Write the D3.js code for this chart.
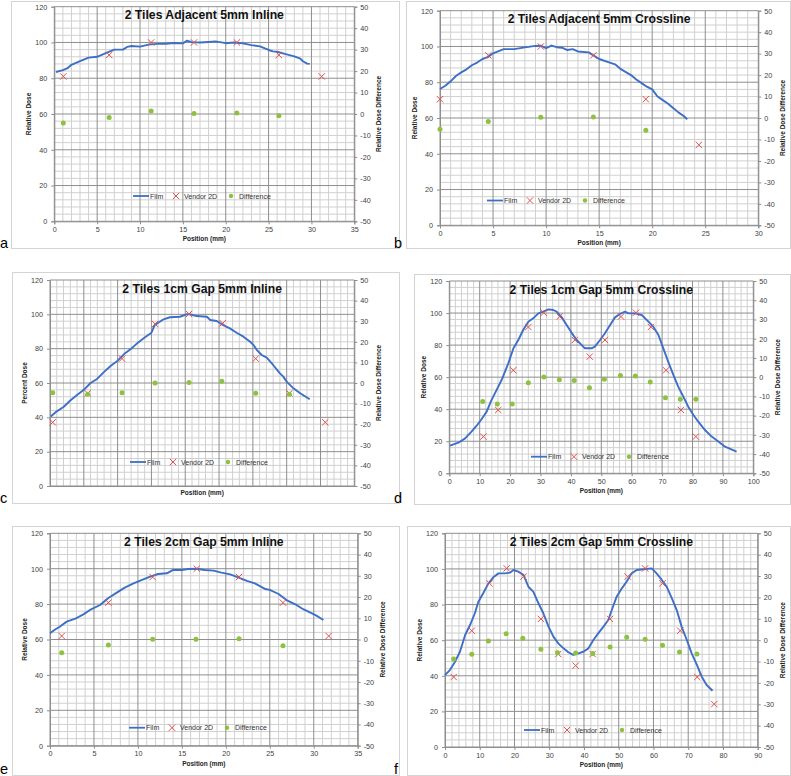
<!DOCTYPE html>
<html>
<head>
<meta charset="utf-8">
<script src="https://cdn.jsdelivr.net/npm/d3@7"></script>
<style>
  html, body { margin: 0; padding: 0; background: #ffffff; }
  svg { display: block; }
</style>
</head>
<body>
<svg id="chart" width="791" height="776"></svg>
<script>
// ---------------- DATA ----------------
const leftTicks = [0, 20, 40, 60, 80, 100, 120];
const rightTicks = [-50, -40, -30, -20, -10, 0, 10, 20, 30, 40, 50];
const legendLabels = ["Film", "Vendor 2D", "Difference"];

// Panel a: 2 Tiles Adjacent 5mm Inline
const titleA = "2 Tiles Adjacent 5mm Inline";
const filmA = [[0.2,83.5],[1,84.5],[1.5,85.5],[2,87.5],[3,89.5],[4,91.5],[5,92],[6,94],[6.5,95],[7,96],[8,96],[8.5,97.5],[9,98],[10,97.7],[11,98.8],[12,99.2],[13,99.3],[14,99.7],[15,99.5],[15.5,101],[16,100.2],[17,100],[18,100.3],[18.8,100.6],[20,99.6],[21,100],[22,99.5],[23,98.5],[24,97.8],[25,95.8],[25.5,95],[26,94.8],[27,93.5],[28,92.2],[28.7,91],[29,89.5],[29.5,88.2],[29.8,88]];
const vendorA = [[1.05,81],[6.4,93],[11.3,100],[16.3,100],[21.3,100],[26.2,93],[31.2,81]];
const diffA = [[1.05,-4.2],[6.4,-1.6],[11.3,1.4],[16.3,0.2],[21.3,0.5],[26.2,-0.8]];

// Panel b: 2 Tiles Adjacent 5mm Crossline
const titleB = "2 Tiles Adjacent 5mm Crossline";
const filmB = [[0,76.2],[0.5,78],[1,80.5],[1.5,83.5],[2,85.5],[2.5,87.2],[3,89.5],[3.5,91],[4,93],[4.5,94],[5,96.2],[6,98.5],[7,98.5],[8,99.5],[9,100.3],[9.5,100.5],[10,99],[10.5,100.5],[11,99.6],[11.5,99.3],[12,98],[12.5,98.5],[13,97.2],[14,96.7],[15,93],[16,91],[16.5,90],[17,87.5],[18,84],[18.5,81.5],[19,79.5],[19.5,77.5],[20,76],[20.5,72],[21,70],[21.5,68],[22,65.5],[22.5,63],[23,61],[23.3,59.2]];
const vendorB = [[0,70.5],[4.55,95],[9.5,100],[14.45,95],[19.4,70.5],[24.4,45]];
const diffB = [[0,-5.3],[4.55,-1.6],[9.5,0.3],[14.45,0.5],[19.4,-5.7]];

// Panel c: 2 Tiles 1cm Gap 5mm Inline
const titleC = "2 Tiles 1cm Gap 5mm Inline";
const filmC = [[0.1,40.5],[1,43.5],[2,46],[3,49.8],[4,53],[5,56],[6,60],[7,62.5],[8,66.5],[9,70],[10,73],[11,77],[12,80],[13,83.5],[14,86.5],[15,89.3],[15.5,93.8],[16.8,97.1],[17.75,98.3],[19.2,98.6],[20.2,100],[20.5,100.2],[21.7,99],[23.2,98.6],[23.7,96.7],[24.65,96.1],[25.4,94.2],[26.6,91.8],[27.6,89.3],[28.6,87],[29.6,84],[30.1,82.1],[30.6,79.2],[31.3,76.3],[32.05,74.8],[33,70.5],[34,65.6],[34.5,63.7],[35,60.8],[36,56.9],[37,54],[38.4,50.5]];
const vendorC = [[0.4,37.1],[5.57,54],[10.65,74.2],[15.53,94.4],[20.56,100.2],[25.54,94.8],[30.42,74.2],[35.4,54],[40.7,37.1]];
const diffC = [[0.4,-4.7],[5.57,-5.5],[10.65,-4.7],[15.53,0],[20.56,0.2],[25.4,0.8],[30.42,-5.0],[35.4,-5.5]];

// Panel d: 2 Tiles 1cm Gap 5mm Crossline
const titleD = "2 Tiles 1cm Gap 5mm Crossline";
const filmD = [[0.2,17.3],[3,19.1],[5.2,21.8],[7.3,26],[9,29.7],[10.6,33.7],[12.3,38.5],[13.9,45.8],[15,49.9],[17.2,58.2],[19.4,68.6],[21.1,78],[22.7,83.2],[24.3,89.4],[26,94.6],[27.6,96.7],[29.3,99.8],[30.9,100.9],[32.6,102.3],[34.2,101.9],[35.3,100.9],[37,97.3],[38.6,92.6],[40.2,87.8],[41.9,83.2],[43.5,80.1],[44.6,78],[46.8,78],[47.9,79],[49.6,83.2],[51.2,87.4],[52.9,92.6],[54.5,97.3],[56.1,99.4],[57.8,100.9],[58.9,99.8],[61.1,99.8],[63.3,98.8],[65.5,94.6],[67.1,91.5],[68.8,86.3],[70.4,78],[72,69.7],[73.7,61.4],[75.3,54.1],[77,47.8],[78.6,41.6],[80.3,36.4],[81.9,32.2],[84.1,27],[86.3,22.9],[88.5,19.8],[90.7,16.6],[94.5,13.5]];
const vendorD = [[11.2,22.9],[16.1,39.5],[21.05,64.3],[26,91.3],[31.1,100.2],[36.3,97.8],[41.3,83.2],[46.2,72.8],[51.2,83.2],[56.5,97.8],[61.4,100.2],[66.3,91.3],[71.3,64.3],[76.2,39.5],[81.1,22.9]];
const diffD = [[11,-12.6],[15.8,-14],[20.7,-14],[26,-2.9],[31.1,0.1],[36.2,-1.3],[41.1,-1.8],[46.1,-5.5],[51,-1.1],[56.3,0.8],[61.2,0.6],[66.1,-2.5],[71.1,-10.7],[76,-11.5],[81.1,-11.5]];

// Panel e: 2 Tiles 2cm Gap 5mm Inline
const titleE = "2 Tiles 2cm Gap 5mm Inline";
const filmE = [[0,63.5],[0.5,65.4],[1.1,67.2],[1.9,70.1],[2.8,71.6],[3.8,74.2],[4.55,76.7],[5.7,79.5],[6.6,83.3],[7.6,86.5],[8.5,89.3],[9.5,91.7],[10.4,93.6],[11.4,95.5],[12.3,97],[13.3,97.4],[14,99.3],[15,99.3],[15.7,99.8],[16.7,100],[17.6,99.3],[18.6,98.9],[19.5,97.8],[20.5,96.8],[21.4,95.1],[22.4,93.1],[23.3,91.7],[24.5,88.5],[25,88],[26,85.7],[26.9,82.3],[27.9,79.9],[28.8,77.1],[29.8,74.8],[30.3,73.5],[31.1,71]];
const vendorE = [[1.33,62],[6.64,80.8],[11.68,95.3],[16.7,100],[21.5,95.3],[26.5,80.8],[31.7,62]];
const diffE = [[1.33,-6.2],[6.64,-2.6],[11.68,0.1],[16.6,0.1],[21.5,0.4],[26.5,-2.9]];

// Panel f: 2 Tiles 2cm Gap 5mm Crossline
const titleF = "2 Tiles 2cm Gap 5mm Crossline";
const filmF = [[0,40.4],[1.4,43.2],[2.9,47.9],[4.3,53.5],[5.8,62.9],[7.2,68.5],[8.6,75.1],[9.6,81.6],[11,86.3],[12.5,91.9],[13.9,95.3],[15.4,97.5],[17.3,97.5],[18.7,97.9],[19.7,99.4],[21.1,98.5],[22.6,96.6],[24,90],[25.4,87.2],[26.9,80.7],[28.3,75.1],[29.8,67.6],[31.2,62],[32.6,58.2],[34.1,55.4],[35.5,53.2],[36.9,51.7],[38.4,52.6],[39.8,53.5],[41.3,55.4],[42.7,60.1],[44.1,63.8],[45.6,67.6],[47,71.3],[48,76.9],[49.4,84.4],[50.9,89.1],[52.3,92.9],[53.7,97.5],[55.2,99.4],[57.1,99.8],[59.5,100.3],[60.9,97.5],[62.4,93.8],[63.8,90],[65.3,83.5],[66.7,76.9],[68.1,67.6],[69.6,60.1],[71,52.6],[72.5,46.1],[73.9,39.5],[75.3,34.8],[77,31.6]];
const vendorF = [[2.5,39.3],[7.7,65.3],[12.8,91.9],[17.75,100.3],[22.6,95.7],[27.6,71.9],[32.6,52.2],[37.6,45.7],[42.5,52.2],[47.5,71.9],[52.6,95.7],[57.6,100.3],[62.6,91.9],[67.7,65.3],[72.6,39.3],[77.5,24.1]];
const diffF = [[2.5,-8.8],[7.7,-6.6],[12.5,-0.4],[17.6,3.0],[22.4,0.9],[27.6,-4.3],[32.4,-5.85],[37.6,-6.0],[42.5,-6.3],[47.5,-3.2],[52.3,1.3],[57.6,0.4],[62.6,-2.4],[67.5,-5.5],[72.5,-6.5]];

// ---------------- LAYOUT ----------------
const panels = [
  {id:"a", title:titleA, film:filmA, vendor:vendorA, diff:diffA, yTitle:"Relative Dose",
   xMax:35, xMajor:5, xMinor:1, xLabels:true,
   plot:{l:54.3, r:354.3, t:6.7, b:221.3}, box:{x0:11, y0:1, x1:399, y1:248},
   legend:{x:133, y:196}, letter:{x:0, y:248}},
  {id:"b", title:titleB, film:filmB, vendor:vendorB, diff:diffB, yTitle:"Relative Dose",
   xMax:30, xMajor:5, xMinor:1, xLabels:true,
   plot:{l:440, r:758.3, t:10.7, b:225.3}, box:{x0:406, y0:1, x1:790, y1:248},
   legend:{x:487, y:200.5}, letter:{x:394, y:248}},
  {id:"c", title:titleC, film:filmC, vendor:vendorC, diff:diffC, yTitle:"Percent Dose",
   xMax:45, xMajor:5, xMinor:1, xLabels:false,
   plot:{l:50, r:354.3, t:280, b:486}, box:{x0:12, y0:272, x1:399, y1:503},
   legend:{x:130, y:462}, letter:{x:0, y:503}},
  {id:"d", title:titleD, film:filmD, vendor:vendorD, diff:diffD, yTitle:"Relative Dose",
   xMax:100, xMajor:10, xMinor:2, xLabels:true,
   plot:{l:449.3, r:753.3, t:281, b:473.3}, box:{x0:414, y0:274, x1:790, y1:504},
   legend:{x:531, y:456.7}, letter:{x:394, y:503}},
  {id:"e", title:titleE, film:filmE, vendor:vendorE, diff:diffE, yTitle:"Relative Dose",
   xMax:35, xMajor:5, xMinor:1, xLabels:true,
   plot:{l:50, r:357.7, t:533.3, b:745.7}, box:{x0:12, y0:526, x1:399, y1:775},
   legend:{x:129, y:727.7}, letter:{x:0, y:774}},
  {id:"f", title:titleF, film:filmF, vendor:vendorF, diff:diffF, yTitle:"Relative Dose",
   xMax:90, xMajor:10, xMinor:2, xLabels:true,
   plot:{l:445, r:757.7, t:533.3, b:747}, box:{x0:407, y0:526, x1:790, y1:775},
   legend:{x:524, y:730}, letter:{x:394, y:774}}
];

const FONT = "'Liberation Sans', Arial, sans-serif";
const BLUE = "#3d6fc6";
const RED = "#e0524f";
const GREEN = "#8dc13f";
const svg = d3.select("#chart");

panels.forEach(p => {
  const g = svg.append("g").attr("class", "panel-" + p.id);
  const P = p.plot;
  const x = d3.scaleLinear().domain([0, p.xMax]).range([P.l, P.r]);
  const y = d3.scaleLinear().domain([0, 120]).range([P.b, P.t]);
  const y2 = d3.scaleLinear().domain([-50, 50]).range([P.b, P.t]);

  // outer box
  g.append("rect")
    .attr("x", p.box.x0 + 0.5).attr("y", p.box.y0 + 0.5)
    .attr("width", p.box.x1 - p.box.x0).attr("height", p.box.y1 - p.box.y0)
    .attr("fill", "#fff").attr("stroke", "#d4d4d4").attr("stroke-width", 1);

  // minor grid
  const xMinorVals = d3.range(0, p.xMax + 1e-9, p.xMinor).filter(v => Math.abs(v / p.xMajor - Math.round(v / p.xMajor)) > 1e-6);
  const yMinorVals = d3.range(0, 120.001, 4).filter(v => v % 20 !== 0);
  g.append("g").selectAll("line").data(xMinorVals).join("line")
    .attr("x1", d => x(d)).attr("x2", d => x(d)).attr("y1", P.t).attr("y2", P.b)
    .attr("stroke", "#d0d0d0").attr("stroke-width", 1);
  g.append("g").selectAll("line").data(yMinorVals).join("line")
    .attr("x1", P.l).attr("x2", P.r).attr("y1", d => y(d)).attr("y2", d => y(d))
    .attr("stroke", "#d0d0d0").attr("stroke-width", 1);
  // major grid
  const xMajorVals = d3.range(0, p.xMax + 1e-9, p.xMajor);
  g.append("g").selectAll("line").data(xMajorVals).join("line")
    .attr("x1", d => x(d)).attr("x2", d => x(d)).attr("y1", P.t).attr("y2", P.b)
    .attr("stroke", "#8e8e8e").attr("stroke-width", 1);
  g.append("g").selectAll("line").data(leftTicks).join("line")
    .attr("x1", P.l).attr("x2", P.r).attr("y1", d => y(d)).attr("y2", d => y(d))
    .attr("stroke", "#8e8e8e").attr("stroke-width", 1);

  // axes
  const axL = d3.axisLeft(y).tickValues(leftTicks).tickSize(3).tickPadding(4);
  const axR = d3.axisRight(y2).tickValues(rightTicks).tickSize(3).tickPadding(3).tickFormat(d => d < 0 ? "-" + Math.abs(d) : d);
  const axB = d3.axisBottom(x).tickValues(xMajorVals).tickSize(p.xLabels ? 3 : 0).tickPadding(2.5);
  if (!p.xLabels) axB.tickFormat("");
  [[axL, `translate(${P.l},0)`], [axR, `translate(${P.r},0)`], [axB, `translate(0,${P.b})`]].forEach(([ax, tr]) => {
    const a = g.append("g").attr("transform", tr).call(ax);
    a.select(".domain").attr("stroke", "#8e8e8e");
    a.selectAll(".tick line").attr("stroke", "#8e8e8e");
    a.selectAll("text").attr("font-family", FONT).attr("font-size", 7.2).attr("fill", "#404040");
  });

  // titles
  g.append("text").attr("x", (P.l + P.r) / 2).attr("y", P.t + 12.5)
    .attr("text-anchor", "middle").attr("font-family", FONT).attr("font-weight", "bold")
    .attr("font-size", 12.2).attr("fill", "#111").text(p.title);
  g.append("text").attr("transform", `translate(${P.l - 23},${(P.t + P.b) / 2}) rotate(-90)`)
    .attr("text-anchor", "middle").attr("font-family", FONT).attr("font-weight", "bold")
    .attr("font-size", 6.5).attr("fill", "#222").text(p.yTitle);
  g.append("text").attr("transform", `translate(${P.r + 27},${(P.t + P.b) / 2}) rotate(-90)`)
    .attr("text-anchor", "middle").attr("font-family", FONT).attr("font-weight", "bold")
    .attr("font-size", 6.5).attr("fill", "#222").text("Relative Dose Difference");
  g.append("text").attr("x", (P.l + P.r) / 2).attr("y", P.b + (p.xLabels ? 20 : 9))
    .attr("text-anchor", "middle").attr("font-family", FONT).attr("font-weight", "bold")
    .attr("font-size", 6.5).attr("fill", "#222").text("Position (mm)");

  // film line
  const line = d3.line().x(d => x(d[0])).y(d => y(d[1])).curve(d3.curveLinear);
  g.append("path").datum(p.film).attr("d", line)
    .attr("fill", "none").attr("stroke", BLUE).attr("stroke-width", 1.9).attr("stroke-linejoin", "round");

  // vendor X markers
  const s = 3.2;
  g.append("g").selectAll("path").data(p.vendor).join("path")
    .attr("transform", d => `translate(${x(d[0])},${y(d[1])})`)
    .attr("d", `M${-s},${-s}L${s},${s}M${-s},${s}L${s},${-s}`)
    .attr("stroke", RED).attr("stroke-width", 1).attr("fill", "none");

  // difference dots
  g.append("g").selectAll("circle").data(p.diff).join("circle")
    .attr("cx", d => x(d[0])).attr("cy", d => y2(d[1])).attr("r", 2.5)
    .attr("fill", GREEN);

  // legend
  const L = p.legend;
  const lg = g.append("g").attr("transform", `translate(${L.x},${L.y})`);
  lg.append("line").attr("x1", 0).attr("x2", 16).attr("y1", 0).attr("y2", 0)
    .attr("stroke", BLUE).attr("stroke-width", 1.8);
  lg.append("text").attr("x", 17).attr("y", 2.5).attr("font-family", FONT).attr("font-size", 7).attr("fill", "#333").text(legendLabels[0]);
  lg.append("path").attr("transform", "translate(43,0)")
    .attr("d", `M${-s},${-s}L${s},${s}M${-s},${s}L${s},${-s}`)
    .attr("stroke", RED).attr("stroke-width", 1).attr("fill", "none");
  lg.append("text").attr("x", 51).attr("y", 2.5).attr("font-family", FONT).attr("font-size", 7).attr("fill", "#333").text(legendLabels[1]);
  lg.append("circle").attr("cx", 98).attr("cy", 0).attr("r", 2.2).attr("fill", GREEN);
  lg.append("text").attr("x", 106).attr("y", 2.5).attr("font-family", FONT).attr("font-size", 7).attr("fill", "#333").text(legendLabels[2]);

  // panel letter
  svg.append("text").attr("x", p.letter.x).attr("y", p.letter.y)
    .attr("font-family", FONT).attr("font-size", 14.5).attr("fill", "#000").text(p.id);
});
</script>
</body>
</html>
